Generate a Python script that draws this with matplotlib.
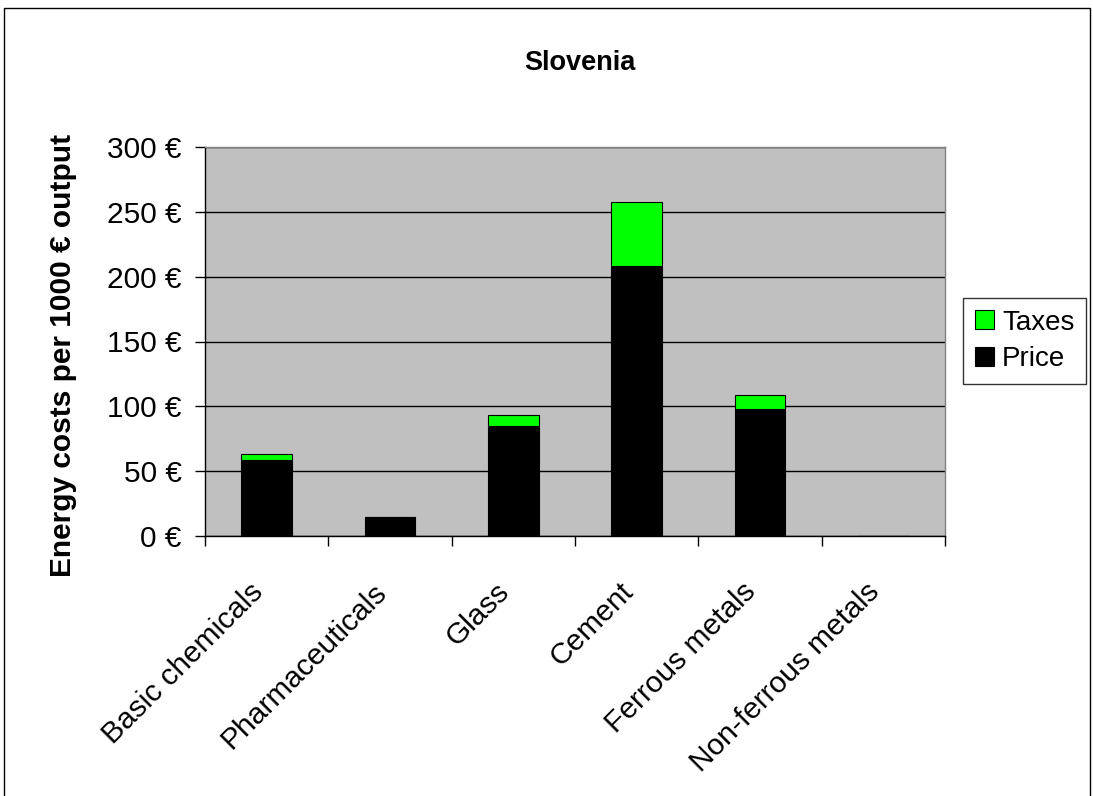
import matplotlib
matplotlib.use("Agg")
import matplotlib.pyplot as plt
import matplotlib.transforms as mtransforms
from matplotlib.patches import Rectangle
from matplotlib.ticker import FuncFormatter, FixedLocator
import numpy as np

plt.rcParams['font.family'] = ['Liberation Sans', 'DejaVu Sans']

categories = ["Basic chemicals", "Pharmaceuticals", "Glass", "Cement",
              "Ferrous metals", "Non-ferrous metals"]
price = [58.6, 14.7, 84.9, 208.6, 98.0, 0.0]
taxes = [4.7, 0.0, 8.2, 48.6, 10.5, 0.0]
y_ticks = [0, 50, 100, 150, 200, 250, 300]

W, H = 1093, 796
fig = plt.figure(figsize=(W / 100, H / 100), dpi=100)

# outer chart frame
fig.patches.append(Rectangle((4 / W, -0.05), 1086 / W, 1.05 - 8 / H,
                             transform=fig.transFigure, fill=False,
                             edgecolor='black', linewidth=1.0))

ax = fig.add_axes([205 / W, 1 - 536 / H, 740 / W, 389 / H])
ax.set_facecolor('#C0C0C0')

x = np.arange(len(categories))
w = 0.41
ax.bar(x, price, width=w, color='black', edgecolor='black', linewidth=0.8,
       label='Price', zorder=3)
ax.bar(x, taxes, width=w, bottom=price, color='#00FF00', edgecolor='black',
       linewidth=0.8, label='Taxes', zorder=3)

ax.set_xlim(-0.5, len(categories) - 0.5)
ax.set_ylim(0, 300)
ax.set_yticks(y_ticks)
ax.yaxis.set_major_formatter(FuncFormatter(lambda v, p: f"{v:.0f} €"))
ax.yaxis.grid(True, color='black', linewidth=1.0, zorder=1)
ax.set_axisbelow(True)

ax.set_xticks(x)
ax.set_xticklabels(categories, rotation=45, ha='right', va='top',
                   rotation_mode='anchor', fontsize=21.5)
ax.tick_params(axis='x', which='major', length=0, pad=30)
shift = mtransforms.ScaledTranslation(-18 / 100, 0, fig.dpi_scale_trans)
for lbl in ax.get_xticklabels():
    lbl.set_transform(lbl.get_transform() + shift)
ax.xaxis.set_minor_locator(FixedLocator(np.arange(len(categories) + 1) - 0.5))
ax.tick_params(axis='x', which='minor', length=7, width=1, color='black')
ax.tick_params(axis='y', length=7, width=1, labelsize=21.5, pad=10)

for side in ('top', 'right'):
    ax.spines[side].set_color('#808080')
    ax.spines[side].set_linewidth(1.0)
for side in ('left', 'bottom'):
    ax.spines[side].set_color('black')
    ax.spines[side].set_linewidth(1.0)

fig.text(63 / W, 1 - 355 / H, "Energy costs per 1000 € output", rotation=90,
         ha='center', va='center', fontsize=21.5, fontweight='bold')
fig.text(580 / W, 1 - 70 / H, "Slovenia", ha='center', va='baseline',
         fontsize=19.5, fontweight='bold')

handles, labels = ax.get_legend_handles_labels()
leg = fig.legend(handles[::-1], labels[::-1], loc='upper left',
                 bbox_to_anchor=(963 / W, 1 - 298 / H), fontsize=20,
                 frameon=True, fancybox=False, edgecolor='black',
                 handlelength=0.68, handleheight=0.68, handletextpad=0.3,
                 borderpad=0.42, labelspacing=0.38, borderaxespad=0)
leg.get_frame().set_linewidth(1.0)
for hdl in leg.legend_handles:
    hdl.set_edgecolor('black')
    hdl.set_linewidth(0.8)

fig.savefig("out.png", dpi=100)
